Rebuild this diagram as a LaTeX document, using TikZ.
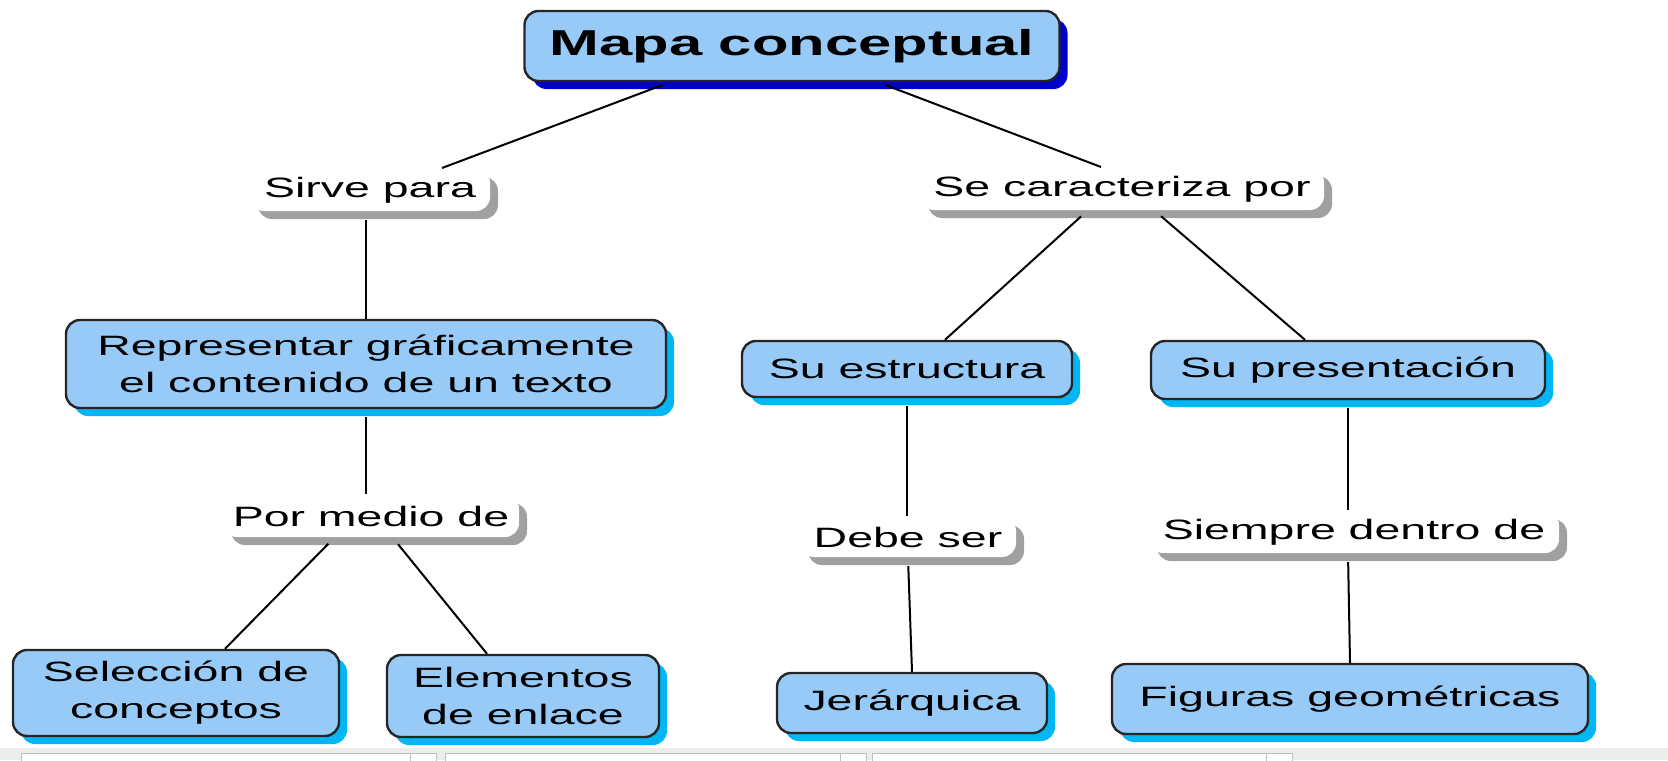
\documentclass[tikz,border=0pt]{standalone}
\usepackage{fontspec}
\setmainfont{Liberation Sans}[FakeStretch=1.66]
\usetikzlibrary{shadows}

\definecolor{conceptfill}{RGB}{152,202,248}
\definecolor{conceptshade}{RGB}{0,182,245}
\definecolor{titleshade}{RGB}{0,0,205}
\definecolor{linkshade}{RGB}{160,160,160}
\definecolor{stripgray}{RGB}{236,236,236}

\tikzset{every picture/.style={line width=1pt},
	conceptbase/.style={draw=black!85,line width=1.2pt,fill=conceptfill,rounded corners=7pt,inner sep=0pt,align=center},
	concept/.style={conceptbase,font=\fontsize{14}{18.5}\selectfont,
		drop shadow={shadow xshift=4pt,shadow yshift=-4pt,fill=conceptshade,opacity=1}},
	titlebox/.style={conceptbase,font=\fontsize{18}{21}\selectfont\bfseries,
		drop shadow={shadow xshift=4pt,shadow yshift=-4pt,fill=titleshade,opacity=1}},
	linkphrase/.style={fill=white,rounded corners=7pt,inner sep=0pt,font=\fontsize{14}{18.5}\selectfont,
		drop shadow={shadow xshift=4pt,shadow yshift=-4pt,fill=linkshade,opacity=1}}}

\begin{document}
\begin{tikzpicture}[x=0.5pt,y=0.5pt,yscale=-1,xscale=1]
	\useasboundingbox (0,0) rectangle (1668,760);
	
	%strip at the bottom
	\fill[stripgray] (0,748) rectangle (1668,760);
	\foreach \xa/\xb in {21/410,445/840,872/1266}
		\draw[black!25,fill=white,line width=0.5pt] (\xa,753) rectangle (\xb,764) (\xb,753) rectangle (\xb+26,764);
	
	%concepts and linking phrases
	\node[titlebox,minimum width=267.5pt,minimum height=35pt] (mapa) at (792,46) {Mapa conceptual};
	\node[linkphrase,minimum width=120pt,minimum height=21pt] (sirve) at (370,190) {Sirve para};
	\node[linkphrase,minimum width=202pt,minimum height=21pt] (caract) at (1122,189) {Se caracteriza por};
	\node[concept,minimum width=300pt,minimum height=44pt] (repr) at (366,364) {Representar gráficamente\\el contenido de un texto};
	\node[linkphrase,minimum width=148pt,minimum height=21pt] (medio) at (371,516) {Por medio de};
	\node[concept,minimum width=163pt,minimum height=43pt] (selec) at (176,693) {Selección de\\conceptos};
	\node[concept,minimum width=136pt,minimum height=41pt] (elem) at (523,696) {Elementos\\de enlace};
	\node[concept,minimum width=165pt,minimum height=28pt] (estruc) at (907,369) {Su estructura};
	\node[concept,minimum width=197pt,minimum height=29pt] (present) at (1348,370) {Su presentación};
	\node[linkphrase,minimum width=108pt,minimum height=20pt] (debe) at (908,537) {Debe ser};
	\node[linkphrase,minimum width=205pt,minimum height=21pt] (siempre) at (1354,532) {Siempre dentro de};
	\node[concept,minimum width=135pt,minimum height=30pt] (jerar) at (912,703) {Jerárquica};
	\node[concept,minimum width=238pt,minimum height=35pt] (figuras) at (1350,699) {Figuras geométricas};
	
	%links
	\draw[shorten <=4pt] ([xshift=-61pt]mapa.south) -- ([xshift=36pt]sirve.north);
	\draw[shorten <=4pt] ([xshift=43pt]mapa.south) -- ([xshift=-10.5pt]caract.north);
	\draw[shorten <=4pt] (repr.north |- sirve.south) -- (repr.north);
	\draw[shorten <=4pt] (repr.south) -- (repr.south |- medio.north);
	\draw[shorten <=4pt] ([xshift=-18.5pt]medio.south) -- ([xshift=24.5pt]selec.north);
	\draw[shorten <=4pt] ([xshift=11pt]medio.south) -- ([xshift=-18pt]elem.north);
	\draw[shorten <=4pt] ([xshift=-17.5pt]caract.south) -- ([xshift=19pt]estruc.north);
	\draw[shorten <=4pt] ([xshift=16.5pt]caract.south) -- ([xshift=-21.5pt]present.north);
	\draw[shorten <=4pt] (estruc.south) -- (estruc.south |- debe.north);
	\draw[shorten <=4pt] (debe.south) -- (jerar.north);
	\draw[shorten <=4pt] (present.south) -- (present.south |- siempre.north);
	\draw[shorten <=4pt] (present.south |- siempre.south) -- (figuras.north);
	
\end{tikzpicture}
\end{document}
